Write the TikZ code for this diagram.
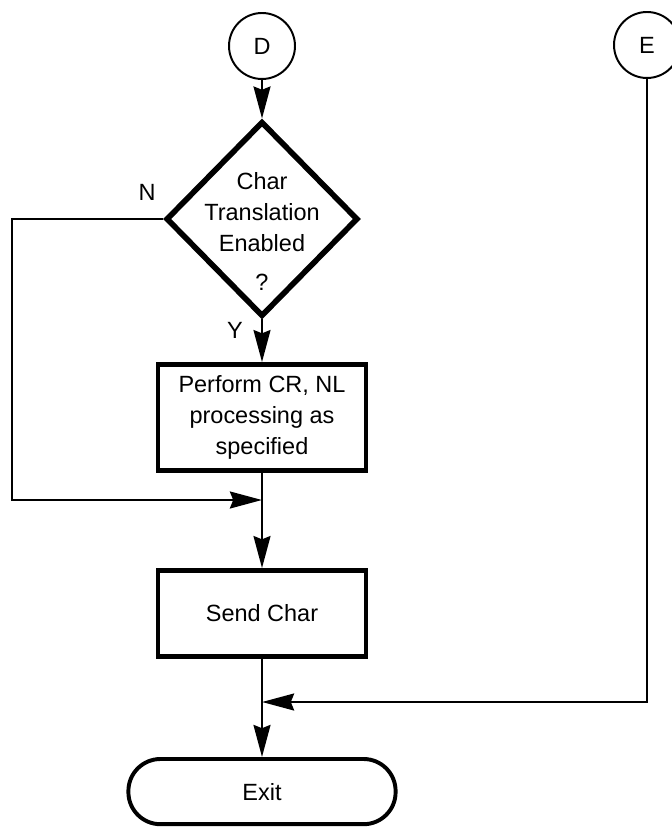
\documentclass[tikz,border=0pt]{standalone}
\usepackage{fontspec}
\setmainfont{Liberation Sans}
\usetikzlibrary{shapes.geometric,arrows.meta}
\tikzset{
  every node/.style={font=\fontsize{16.7}{22}\selectfont},
  conn/.style={draw,circle,line width=1.4pt,minimum size=1.65cm,inner sep=0pt},
  decision/.style={draw,diamond,line width=4pt,minimum width=4.8cm,minimum height=4.88cm,inner sep=0pt},
  procbox/.style={draw,rectangle,line width=3.5pt,minimum width=5.2cm,inner sep=0pt,align=center},
  termbox/.style={draw,rectangle,rounded corners=0.8cm,line width=2.8pt,minimum width=6.68cm,minimum height=1.63cm},
  line/.style={line width=2.1pt},
  flow/.style={line,-{Stealth[length=0.8cm,width=0.42cm,inset=0.08cm]}}
}
\begin{document}
\begin{tikzpicture}
        \useasboundingbox (0,0) rectangle (16.775,-20.675);
        \node[conn] (D) at (6.55,-1.15) {D};
        \node[conn] (E) at (16.175,-1.125) {E};
        \node[decision] (chk) at (6.55,-5.475) {};
        \node[align=center] (chktxt) at (6.55,-5.78) {Char\\Translation\\Enabled\\[0.2cm]?};
        \node (no) at (3.675,-4.8) {N};
        \node (yes) at (5.875,-8.25) {Y};
        \node[procbox,minimum height=2.65cm] (proc) at (6.55,-10.44) {Perform CR, NL\\processing as\\specified};
        \node[procbox,minimum height=2.15cm] (send) at (6.55,-15.34) {Send Char};
        \node[termbox] (exit) at (6.55,-19.79) {Exit};
        \coordinate (lc) at (0.3,-12.5);
        \coordinate (jl) at (6.55,-12.5);
        \coordinate (jr) at (6.55,-17.55);
        \draw[flow](D)--(chk);
        \draw[flow](chk)--(proc);
        \draw[flow](chk.west)-|(lc)--(jl);
        \draw[flow](proc)--(send);
        \draw[flow](E)|-(jr);
        \draw[flow](send)--(exit);
      \end{tikzpicture}
\end{document}
